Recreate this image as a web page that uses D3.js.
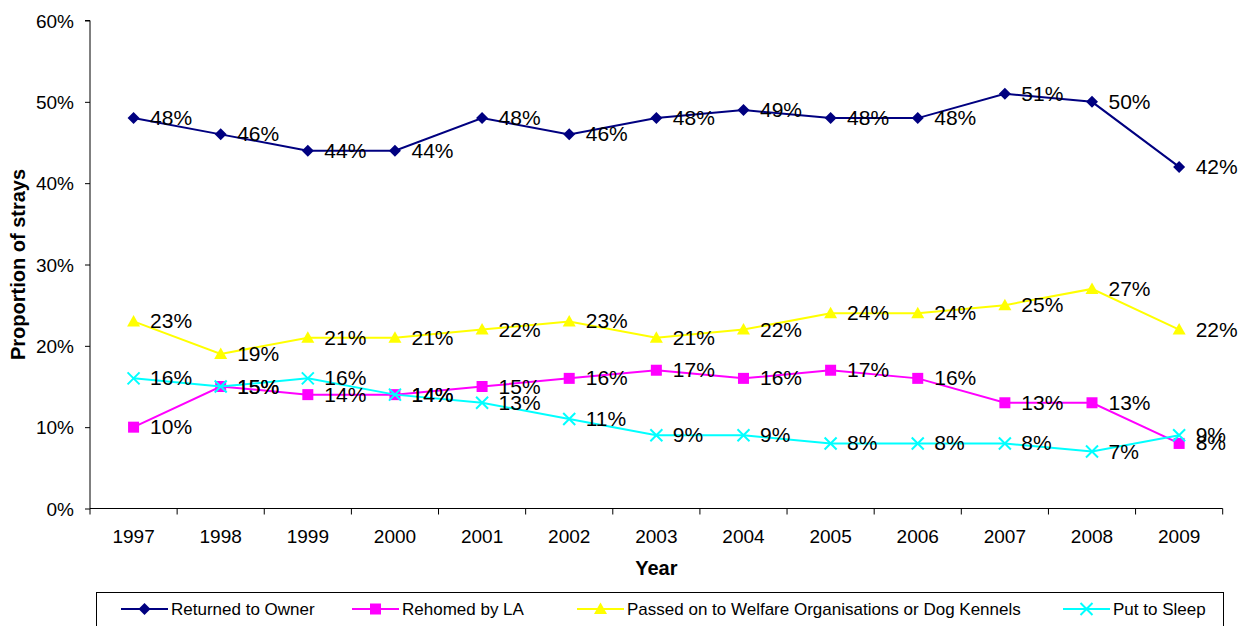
<!DOCTYPE html>
<html>
<head>
<meta charset="utf-8">
<script src="https://cdn.jsdelivr.net/npm/d3@7"></script>
<style>
  body { margin: 0; background: #fff; }
  svg { display: block; font-family: 'Liberation Sans', Arial, sans-serif; }
</style>
</head>
<body>
<div class="canvas"></div>
<script>
// data
const years = ['1997', '1998', '1999', '2000', '2001', '2002', '2003', '2004', '2005', '2006', '2007', '2008', '2009'];
const returnedToOwner = [48, 46, 44, 44, 48, 46, 48, 49, 48, 48, 51, 50, 42];
const rehomedByLA = [10, 15, 14, 14, 15, 16, 17, 16, 17, 16, 13, 13, 8];
const passedOn = [23, 19, 21, 21, 22, 23, 21, 22, 24, 24, 25, 27, 22];
const putToSleep = [16, 15, 16, 14, 13, 11, 9, 9, 8, 8, 8, 7, 9];
const yTicks = [0, 10, 20, 30, 40, 50, 60];
const seriesNames = ['Returned to Owner', 'Rehomed by LA', 'Passed on to Welfare Organisations or Dog Kennels', 'Put to Sleep'];

const series = [
  { name: seriesNames[0], values: returnedToOwner, color: '#000080', marker: 'diamond' },
  { name: seriesNames[1], values: rehomedByLA, color: '#ff00ff', marker: 'square' },
  { name: seriesNames[2], values: passedOn, color: '#ffff00', marker: 'triangle' },
  { name: seriesNames[3], values: putToSleep, color: '#00ffff', marker: 'cross' },
];

const dims = { width: 1249, height: 626, left: 90, right: 1222.7, top: 20.5, bottom: 508.5 };

const svg = d3.select('.canvas')
  .append('svg')
  .attr('width', dims.width)
  .attr('height', dims.height);

// scales
const x = d3.scaleBand().domain(years).range([dims.left, dims.right]).padding(0);
const y = d3.scaleLinear().domain([0, 60]).range([dims.bottom, dims.top]);
const cx = (d) => x(d) + x.bandwidth() / 2;

// y axis
const yAxis = d3.axisLeft(y).tickValues(yTicks).tickSize(5).tickPadding(11).tickFormat((d) => d + '%');
const yAxisGroup = svg.append('g').attr('transform', `translate(${dims.left},0)`).call(yAxis);
yAxisGroup.select('path.domain').attr('stroke', '#000').attr('d', `M-5,${dims.top}H0V${dims.bottom}`);
yAxisGroup.selectAll('text').attr('font-size', 19).attr('fill', '#000')
  .attr('font-family', "'Liberation Sans', Arial, sans-serif").attr('dy', '0.35em');
yAxisGroup.selectAll('.tick line').attr('stroke', '#000');

// x axis: labels centred, ticks on band edges
const xAxis = d3.axisBottom(x).tickSize(0).tickPadding(21);
const xAxisGroup = svg.append('g').attr('transform', `translate(0,${dims.bottom})`).call(xAxis);
xAxisGroup.select('path.domain').attr('stroke', '#000').attr('d', `M${dims.left},0H${dims.right}`);
xAxisGroup.selectAll('text').attr('font-size', 19).attr('fill', '#000')
  .attr('font-family', "'Liberation Sans', Arial, sans-serif");
const edges = years.map((d) => x(d)).concat([x.range()[1]]);
xAxisGroup.selectAll('line.edge')
  .data(edges)
  .enter()
  .append('line')
  .attr('class', 'edge')
  .attr('x1', (d) => d).attr('x2', (d) => d)
  .attr('y1', 0).attr('y2', 6)
  .attr('stroke', '#000');

// axis titles
svg.append('text')
  .attr('x', (dims.left + dims.right) / 2)
  .attr('y', 575)
  .attr('text-anchor', 'middle')
  .attr('font-size', 20)
  .attr('font-weight', 'bold')
  .text('Year');

svg.append('text')
  .attr('transform', `translate(25,${(dims.top + dims.bottom) / 2}) rotate(-90)`)
  .attr('text-anchor', 'middle')
  .attr('font-size', 20)
  .attr('font-weight', 'bold')
  .text('Proportion of strays');

// markers
function drawMarker(g, type, color) {
  if (type === 'diamond') {
    g.append('path').attr('d', 'M0,-6L6,0L0,6L-6,0Z').attr('fill', color);
  } else if (type === 'square') {
    g.append('rect').attr('x', -5.5).attr('y', -5.5).attr('width', 11).attr('height', 11).attr('fill', color);
  } else if (type === 'triangle') {
    g.append('path').attr('d', 'M0,-6.5L6.5,5L-6.5,5Z').attr('fill', color);
  } else {
    g.append('path').attr('d', 'M-6,-6L6,6M-6,6L6,-6').attr('stroke', color).attr('stroke-width', 2);
  }
}

const line = d3.line().x((d) => cx(d.year)).y((d) => y(d.value));

series.forEach((s) => {
  const pts = years.map((yr, i) => ({ year: yr, value: s.values[i] }));
  const g = svg.append('g');
  g.append('path')
    .datum(pts)
    .attr('d', line)
    .attr('fill', 'none')
    .attr('stroke', s.color)
    .attr('stroke-width', 2);
  g.selectAll('g.mk')
    .data(pts)
    .enter()
    .append('g')
    .attr('class', 'mk')
    .attr('transform', (d) => `translate(${cx(d.year)},${y(d.value)})`)
    .each(function () { drawMarker(d3.select(this), s.marker, s.color); });
});

// data labels on top
series.forEach((s) => {
  const pts = years.map((yr, i) => ({ year: yr, value: s.values[i] }));
  svg.append('g').selectAll('text')
    .data(pts)
    .enter()
    .append('text')
    .attr('x', (d) => cx(d.year) + 16.5)
    .attr('y', (d) => y(d.value) + 7)
    .attr('font-size', 21)
    .attr('fill', '#000')
    .text((d) => d.value + '%');
});

// legend
const legend = svg.append('g');
legend.append('rect')
  .attr('x', 96.5).attr('y', 592.5)
  .attr('width', 1127).attr('height', 40)
  .attr('fill', '#fff').attr('stroke', '#000');
const legendX = [121, 352, 577, 1063];
series.forEach((s, i) => {
  const item = legend.append('g').attr('transform', `translate(${legendX[i]},609)`);
  item.append('line').attr('x1', 0).attr('x2', 47).attr('stroke', s.color).attr('stroke-width', 2);
  drawMarker(item.append('g').attr('transform', 'translate(23.5,0)'), s.marker, s.color);
  item.append('text').attr('x', 50).attr('y', 6).attr('font-size', 17).attr('fill', '#000').text(s.name);
});
</script>
</body>
</html>
